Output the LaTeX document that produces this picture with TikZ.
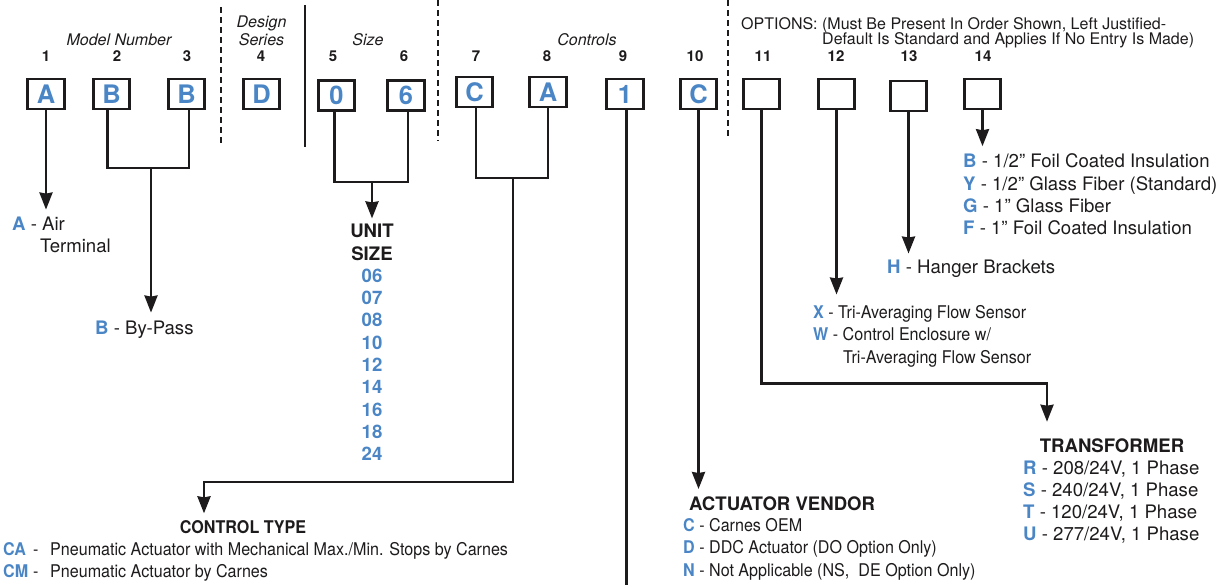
\documentclass[tikz,border=0pt]{standalone}
\usepackage{fontspec}
\setmainfont{TeX Gyre Heros}
\newfontfamily\narrowfont[FakeStretch=0.92]{TeX Gyre Heros}
\usetikzlibrary{arrows.meta,calc}
\definecolor{ink}{RGB}{30,27,28}
\definecolor{codeblue}{RGB}{74,133,197}
\newcommand{\keyltr}[1]{\textcolor{codeblue}{\bfseries #1}}

\begin{document}
\begin{tikzpicture}[x=1pt, y=-1pt,
  every node/.style={text=ink},
  digit/.style={rectangle, draw=ink, line width=2.6pt, minimum width=36.5pt, minimum height=30pt, inner sep=0pt, font=\fontsize{25.5}{30}\selectfont\bfseries, text=codeblue},
  posnum/.style={anchor=base, inner sep=0pt, font=\fontsize{15}{18}\selectfont\bfseries},
  grp/.style={anchor=base, inner sep=0pt, font=\fontsize{16}{19}\selectfont\itshape},
  note/.style={anchor=base west, inner sep=0pt, font=\fontsize{18.6}{22}\selectfont},
  slim/.style={anchor=base west, inner sep=0pt, font=\narrowfont\fontsize{17.5}{21}\selectfont},
  listhead/.style={anchor=base, inner sep=0pt, font=\fontsize{18.6}{22.3}\selectfont\bfseries},
  link/.style={draw=ink, line width=2.6pt},
  arrow/.style={link, -{Stealth[length=17pt, width=13pt, inset=1pt]}},
  divider/.style={draw=ink, line width=2.6pt, dash pattern=on 6pt off 4pt},
]
\useasboundingbox (0,0) rectangle (1222,584);

% === CODE BOXES ===
\node[digit] (bA)   at (46,94)      {A};
\node[digit] (bB1)  at (111.5,94)   {B};
\node[digit] (bB2)  at (186.5,94)   {B};
\node[digit] (bD)   at (261.5,94)   {D};
\node[digit] (b0)   at (336.5,95.5) {0};
\node[digit] (b6)   at (406,95.5)   {6};
\node[digit] (bC)   at (474.5,92)   {C};
\node[digit] (bA8)  at (548,92)     {A};
\node[digit] (b1)   at (625,94)     {1};
\node[digit] (bC10) at (698.5,94)   {C};
\node[digit] (b11)  at (761.5,94)   {};
\node[digit] (b12)  at (836.5,94)   {};
\node[digit] (b13)  at (908.5,96)   {};
\node[digit] (b14)  at (982.5,94)   {};

% === POSITIONS AND GROUPS ===
\node[posnum] (n1)  at (46,61)  {1};
\node[posnum] (n2)  at (117,61) {2};
\node[posnum] (n3)  at (187,61) {3};
\node[posnum] (n4)  at (261,61) {4};
\node[posnum] (n5)  at (333,61) {5};
\node[posnum] (n6)  at (404,61) {6};
\node[posnum] (n7)  at (476,61) {7};
\node[posnum] (n8)  at (547,61) {8};
\node[posnum] (n9)  at (623,61) {9};
\node[posnum] (n10) at (695,61) {10};
\node[posnum] (n11) at (763,61) {11};
\node[posnum] (n12) at (836,61) {12};
\node[posnum] (n13) at (909,61) {13};
\node[posnum] (n14) at (983,61) {14};

\node[grp] (gmodel)  at (119,45)   {Model Number};
\node[grp] (gdesign) at (261.5,27.5) {Design};
\node[grp] (gseries) at (261.5,45) {Series};
\node[grp] (gsize)   at (368,45)   {Size};
\node[grp] (gctrl)   at (587,45)   {Controls};
\node[anchor=base west, inner sep=0pt, font=\fontsize{16}{19}\selectfont] (opt1) at (741,29.3)
  {OPTIONS: (Must Be Present In Order Shown, Left Justified-};
\node[anchor=base west, inner sep=0pt, font=\fontsize{16}{19}\selectfont] (opt2) at (822,44)
  {Default Is Standard and Applies If No Entry Is Made)};

\draw[divider] (221,7) -- (221,145);
\draw[ink, line width=2.6pt] (305,5) -- (305,147);
\draw[divider] (438,0) -- (438,141);
\draw[divider] (728,0) -- (728,138);

% === DESCRIPTIONS ===
\node[note] (air)    at (12,230)   {\keyltr{A} - Air};
\node[note] (airtwo) at (40,252.7) {Terminal};
\node[note] (bypass) at (95,334)   {\keyltr{B} - By-Pass};

\node[listhead, align=center, anchor=north] (usize) at (372,224)
  {UNIT\\SIZE\\\textcolor{codeblue}{06}\\\textcolor{codeblue}{07}\\\textcolor{codeblue}{08}\\\textcolor{codeblue}{10}\\\textcolor{codeblue}{12}\\\textcolor{codeblue}{14}\\\textcolor{codeblue}{16}\\\textcolor{codeblue}{18}\\\textcolor{codeblue}{24}};

\node[listhead, font=\narrowfont\fontsize{17.5}{21}\selectfont\bfseries] (ctype) at (243,533.5) {CONTROL TYPE};
\node[slim] (ctCA) at (3,555.5) {\makebox[47pt][l]{\makebox[30pt][l]{\keyltr{CA}}-}Pneumatic Actuator with Mechanical Max./Min. Stops by Carnes};
\node[slim] (ctCM) at (3,577.5) {\makebox[47pt][l]{\makebox[30pt][l]{\keyltr{CM}}-}Pneumatic Actuator by Carnes};

\node[listhead, anchor=base west] (actv) at (689,510) {ACTUATOR VENDOR};
\node[slim] (actC) at (683,531.3) {\keyltr{C} - Carnes OEM};
\node[slim] (actD) at (683,553.6) {\keyltr{D} - DDC Actuator (DO Option Only)};
\node[slim] (actN) at (683,576)   {\keyltr{N} - Not Applicable (NS,~~DE Option Only)};

\node[listhead] (trans) at (1112,452.7) {TRANSFORMER};
\node[note] (trR) at (1023,474.7) {\keyltr{R} - 208/24V, 1 Phase};
\node[note] (trS) at (1023,496.7) {\keyltr{S} - 240/24V, 1 Phase};
\node[note] (trT) at (1023,518.7) {\keyltr{T} - 120/24V, 1 Phase};
\node[note] (trU) at (1023,540.7) {\keyltr{U} - 277/24V, 1 Phase};

\node[slim] (sensX) at (813,318.3) {\keyltr{X} - Tri-Averaging Flow Sensor};
\node[slim] (sensW) at (813,340.6) {\keyltr{W} - Control Enclosure w/};
\node[slim] (sensW2) at (843,363)  {Tri-Averaging Flow Sensor};

\node[note] (hang) at (887,273.7) {\keyltr{H} - Hanger Brackets};

\node[note] (insB) at (963,167.7) {\keyltr{B} - 1/2” Foil Coated Insulation};
\node[note] (insY) at (963,190)   {\keyltr{Y} - 1/2” Glass Fiber (Standard)};
\node[note] (insG) at (963,212.3) {\keyltr{G} - 1” Glass Fiber};
\node[note] (insF) at (963,234.6) {\keyltr{F} - 1” Foil Coated Insulation};

% === CONNECTORS ===
\coordinate (bjoin)   at (151,168);
\coordinate (sjoin)   at (372,182);
\coordinate (cjoin)   at (513,178);
\coordinate (cbend)   at (204,482);
\coordinate (nineend) at (625,586);
\coordinate (tbend)   at (1047,383.5);

\draw[arrow, shorten >=6.7pt] (bA.south) -- (bA.south |- air.north);
\draw[link] ([xshift=-4pt]bB1.south) |- (bjoin) -| ([xshift=2.5pt]bB2.south);
\draw[arrow, shorten >=7.7pt] (bjoin) -- (bjoin |- bypass.north);
\draw[link] ([xshift=-2pt]b0.south) |- (sjoin) -| ([xshift=2pt]b6.south);
\draw[arrow, shorten >=5.6pt] (sjoin) -- (sjoin |- usize.north);
\draw[link] ([xshift=1.5pt]bC.south) |- (cjoin) -| (bA8.south);
\draw[arrow, shorten >=7pt] (cjoin) |- (cbend) -- (cbend |- ctype.north);
\draw[link] ([xshift=1.5pt]b1.south) -- ([xshift=1.5pt]nineend);
\draw[arrow, shorten >=7pt] (bC10.south) -- (bC10.south |- actv.north);
\draw[arrow, shorten >=17pt] (b11.south) |- (tbend) -- (tbend |- trans.north);
\draw[arrow, shorten >=10.5pt] (b12.south) -- (b12.south |- sensX.north);
\draw[arrow, shorten >=6.4pt] (b13.south) -- (b13.south |- hang.north);
\draw[arrow, shorten >=7.4pt] (b14.south) -- (b14.south |- insB.north);
\end{tikzpicture}
\end{document}
